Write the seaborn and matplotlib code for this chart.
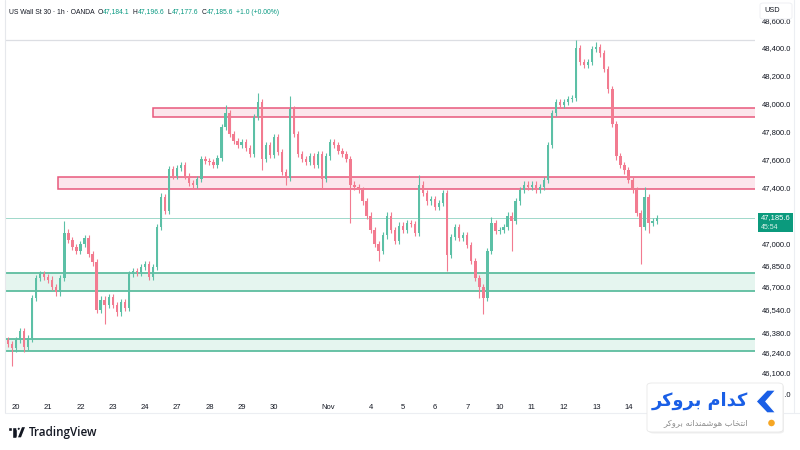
import numpy as np
import pandas as pd
import matplotlib
matplotlib.use("Agg")
import matplotlib.pyplot as plt
import seaborn as sns
from matplotlib.patches import Rectangle, FancyBboxPatch, Polygon, Ellipse
from matplotlib.ticker import FixedLocator, NullLocator, FuncFormatter
from matplotlib.lines import Line2D

# ---------------- data (3-hour candles) ----------------
first_index = -2
first_open = 46330
closes = [
    46300, 46270,
    46330, 46390, 46280, 46340, 46620, 46760, 46790, 46770,   # 20
    46750, 46700, 46660, 46760, 47080, 47030, 46980, 46950,   # 21
    47000, 47040, 46930, 46870, 46540, 46610, 46570, 46630,   # 22
    46570, 46520, 46590, 46550, 46790, 46810, 46800, 46840,   # 23
    46860, 46770, 46840, 47120, 47330, 47230, 47530, 47480,   # 24
    47540, 47560, 47480, 47430, 47420, 47460, 47600, 47590,   # 27
    47580, 47560, 47610, 47830, 47930, 47780, 47730, 47700,   # 28
    47720, 47680, 47640, 47900, 48010, 47600, 47700, 47630,   # 29
    47760, 47650, 47510, 47470, 47960, 47780, 47640, 47600,   # 30
    47580, 47620, 47560, 47640, 47460, 47620, 47720, 47700,   # 31
    47660, 47640, 47600, 47420, 47400, 47380, 47300, 47200,   # Nov 3
    47100, 47000, 46950, 47060, 47200, 47100, 47020, 47130,   # 4
    47100, 47150, 47140, 47080, 47420, 47360, 47300, 47320,   # 5
    47260, 47290, 47360, 46920, 47050, 47120, 47040, 47060,   # 6
    46990, 46880, 46760, 46700, 46620, 46950, 47150, 47090,   # 7
    47100, 47120, 47200, 47160, 47300, 47380, 47420, 47400,   # 10
    47420, 47380, 47400, 47450, 47700, 47930, 48010, 47990,   # 11
    48010, 48030, 48040, 48400, 48300, 48280, 48300, 48390,   # 12
    48410, 48360, 48250, 48100, 47850, 47620, 47560, 47520,   # 13
    47450, 47380, 47220, 47120, 47330, 47150, 47160, 47185.6, # 14
]
spike_highs = {12: 47165, 36: 47360, 52: 47985, 60: 48075, 68: 48050,
               100: 47490, 118: 47190, 139: 48458, 144: 48440, 156: 47400}
spike_lows = {-1: 46150, 2: 46245, 22: 46440, 61: 47520, 67: 47420, 76: 47390,
              83: 47150, 90: 46880, 107: 46810, 115: 46620, 116: 46510,
              123: 46950, 155: 46860, 157: 47080}

day_labels = ["20", "21", "22", "23", "24", "27", "28", "29", "30", "Nov",
              "4", "5", "6", "7", "10", "11", "12", "13", "14"]
day_slots = [0, 1, 2, 3, 4, 5, 6, 7, 8, 9.68, 11, 12, 13, 14, 15, 16, 17, 18, 19]
candles_per_day = 8

price_ticks = [48600, 48400, 48200, 48000, 47800, 47600, 47400, 47000,
               46850, 46700, 46540, 46380, 46240, 46100, 45960]
resistance_zones = [(34.0, 47902, 47967), (10.4, 47390, 47476)]
support_zones = [(46672, 46798), (46255, 46334)]
high_line = 48458
last_price = 47185.6
countdown = "45:54"
header_name = "US Wall St 30 · 1h · OANDA"
ohlc_header = [("O", "47,184.1"), ("H", "47,196.6"), ("L", "47,177.6"), ("C", "47,185.6")]
change_text = "+1.0 (+0.00%)"

# ---------------- build frame ----------------
df = pd.DataFrame({"idx": np.arange(len(closes)) + first_index, "close": closes})
df["open"] = [first_open] + closes[:-1]
wick = 22
df["high"] = [spike_highs.get(i, max(o, c) + wick) for i, o, c in zip(df.idx, df.open, df.close)]
df["low"] = [spike_lows.get(i, min(o, c) - wick) for i, o, c in zip(df.idx, df.open, df.close)]
df["up"] = df.close >= df.open

# ---------------- style ----------------
sns.set_theme(style="white")
plt.rcParams["font.family"] = ["Liberation Sans", "DejaVu Sans"]

W, H = 800, 450
fig = plt.figure(figsize=(8, 4.5), dpi=100)
fig.patch.set_facecolor("white")

def fx(x):
    return x / W

def fy(y):
    return 1 - y / H

ax = fig.add_axes([fx(5), fy(398), 750 / W, 398 / H])
ax.set_facecolor("white")
xmin, xmax = -2.73, 183.4
ax.set_xlim(xmin, xmax)
ax.set_yscale("log")
ax.set_ylim(45928, 48749)

up_c, dn_c = "#5cc0a6", "#f27b90"

# zones
for x0, lo, hi in resistance_zones:
    ax.add_patch(Rectangle((x0, lo), xmax - x0 + 2, hi - lo, facecolor="#fce6ec",
                           edgecolor="#e8587c", lw=1.1, zorder=1))
for lo, hi in support_zones:
    ax.add_patch(Rectangle((xmin - 1, lo), xmax - xmin + 3, hi - lo, facecolor="#e5f5ef",
                           edgecolor="#5dbd9f", lw=1.3, zorder=1))

ax.axhline(high_line, color="#dcdee3", lw=0.9, zorder=1)
ax.axhline(last_price, color="#9fd8ca", lw=0.7, zorder=1)

cols = np.where(df.up, up_c, dn_c)
ax.vlines(df.idx, df.low, df.high, colors=cols, lw=0.8, zorder=3)
body_lo = np.minimum(df.open, df.close)
body_h = np.maximum(np.abs(df.close - df.open), 6)
ax.bar(df.idx, body_h, bottom=body_lo, width=0.58, color=cols, lw=0, zorder=3)

# axes
ax.yaxis.tick_right()
ax.yaxis.set_major_locator(FixedLocator(price_ticks))
ax.yaxis.set_minor_locator(NullLocator())
ax.yaxis.set_major_formatter(FuncFormatter(lambda v, p: f"{v:,.1f}"))
ax.tick_params(axis="y", length=0, pad=5, labelsize=5.5, labelcolor="#131722")
ax.set_xticks([candles_per_day * s for s in day_slots])
ax.set_xticklabels(day_labels)
ax.tick_params(axis="x", length=0, pad=4, labelsize=5.5, labelcolor="#131722")
for s in ax.spines.values():
    s.set_visible(False)
ax.grid(False)

# frame lines
fig.add_artist(Line2D([fx(5), fx(5)], [fy(0), fy(413)], color="#e6e8ec", lw=0.8))
fig.add_artist(Line2D([fx(5), fx(800)], [fy(413), fy(413)], color="#eceef2", lw=0.8))
fig.add_artist(Line2D([fx(794), fx(794)], [fy(0), fy(413)], color="#eceef2", lw=0.8))

# USD box
fig.add_artist(FancyBboxPatch((fx(760), fy(19)), fx(32), 16 / H, boxstyle="round,pad=0,rounding_size=0.004",
                              transform=fig.transFigure, facecolor="white", edgecolor="#eceef2",
                              lw=0.6, zorder=5))
fig.text(fx(764), fy(11), "USD", fontsize=5.3, color="#131722", va="center", ha="left", zorder=6)

# last price box
fig.add_artist(Rectangle((fx(758), fy(232)), fx(35), 19 / H, transform=fig.transFigure,
                         facecolor="#0b9a7d", edgecolor="none", zorder=5))
fig.text(fx(761), fy(218), f"{last_price:,.1f}", fontsize=5.5, color="white", va="center",
         ha="left", zorder=6)
fig.text(fx(761), fy(227.5), countdown, fontsize=5, color="#d8f1ea", va="center", ha="left", zorder=6)

# header
fig.canvas.draw()
renderer = fig.canvas.get_renderer()
cur = 9.0
def put(txt, color, gap=0.0, weight="normal"):
    global cur
    cur += gap
    t = fig.text(fx(cur), fy(12), txt, fontsize=4.9, color=color, va="center", ha="left",
                 fontweight=weight, zorder=6)
    bb = t.get_window_extent(renderer)
    cur += bb.width
put(header_name, "#131722")
for k, v in ohlc_header:
    put(k, "#131722", gap=3.0)
    put(v, "#089981", gap=0.3)
put(change_text, "#089981", gap=3.5)

# TradingView logo
dark = "#131722"
fig.add_artist(Rectangle((fx(8), fy(431)), fx(8.5), 4.5 / H, transform=fig.transFigure, facecolor=dark, zorder=6))
fig.add_artist(Rectangle((fx(12), fy(438)), fx(4.5), 11.5 / H, transform=fig.transFigure, facecolor=dark, zorder=6))
fig.add_artist(Ellipse((fx(18.8), fy(428.8)), fx(3.6), 3.6 / H, transform=fig.transFigure, facecolor=dark, zorder=6))
fig.add_artist(Polygon([(fx(21.5), fy(426.5)), (fx(26), fy(426.5)), (fx(21.5), fy(438)), (fx(17), fy(438))],
                       closed=True, transform=fig.transFigure, facecolor=dark, zorder=6))
fig.text(fx(29), fy(432.5), "TradingView", fontsize=8.4, color=dark, va="center", ha="left",
         family=["Open Sans", "DejaVu Sans"], fontweight="semibold", zorder=6)

# broker logo box
fig.add_artist(FancyBboxPatch((fx(649), fy(433.5)), fx(135), 49 / H,
                              boxstyle="round,pad=0,rounding_size=0.006", transform=fig.transFigure,
                              facecolor="#efefef", edgecolor="none", zorder=7))
fig.add_artist(FancyBboxPatch((fx(647), fy(432)), fx(136), 49 / H,
                              boxstyle="round,pad=0,rounding_size=0.006", transform=fig.transFigure,
                              facecolor="white", edgecolor="#e8e8e8", lw=0.6, zorder=7))
blue = "#1a5fe6"
fig.add_artist(Polygon([(fx(776), fy(390)), (fx(766), fy(401.5)), (fx(776), fy(413)),
                        (fx(767), fy(413)), (fx(756), fy(401.5)), (fx(767), fy(390))],
                       closed=True, transform=fig.transFigure, facecolor=blue, zorder=8))
fig.add_artist(Ellipse((fx(771.5), fy(423)), fx(8), 8 / H, transform=fig.transFigure,
                       facecolor="#f6a623", zorder=8))
brand = "\uFEAE\uFB90\uFEED\uFEAE\uFE91 \uFEE1\uFE8D\uFEAA\uFB90"
slogan = ("\uFEAE\uFB90\uFEED\uFEAE\uFE91 "
          "\uFEEA\uFEE7\uFE8D\uFEAA\uFEE8\uFEE4\uFEB7\uFEEE\uFEEB "
          "\uFE8F\uFE8E\uFEA8\uFE98\uFEE7\uFE8D")
fig.text(fx(748), fy(401), brand, fontsize=12.8, color=blue, fontweight="bold", ha="right",
         va="center", family=["DejaVu Sans"], zorder=9)
fig.text(fx(748), fy(423), slogan, fontsize=6.0, color="#8c8c8c", ha="right", va="center",
         family=["DejaVu Sans"], zorder=9)

fig.savefig("out.png", dpi=100, facecolor="white")
